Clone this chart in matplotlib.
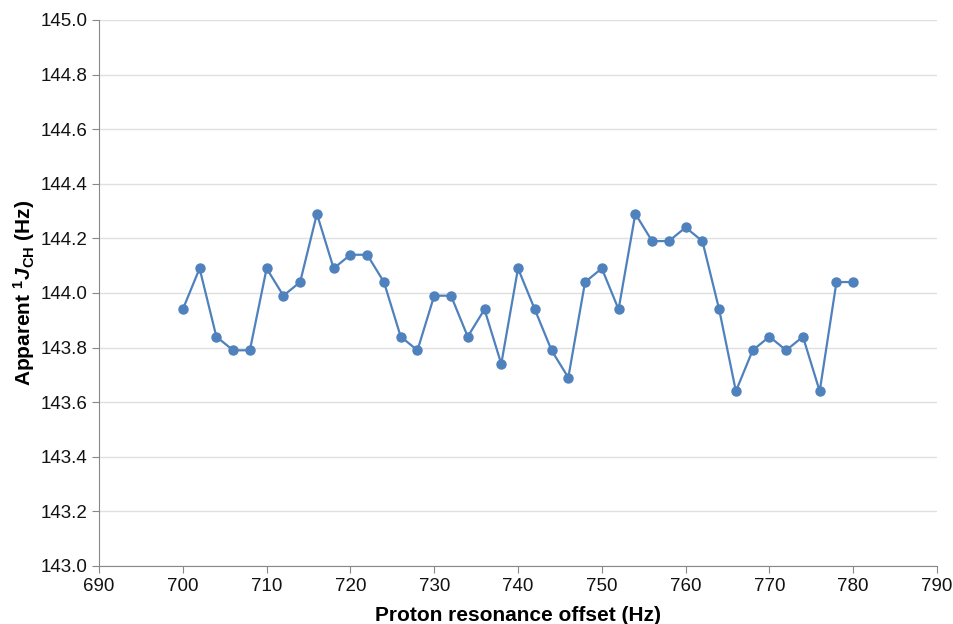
import matplotlib
matplotlib.use('Agg')
import matplotlib.pyplot as plt
import numpy as np

plt.rcParams['font.family'] = ['Liberation Sans', 'DejaVu Sans']
plt.rcParams['mathtext.fontset'] = 'custom'
plt.rcParams['mathtext.rm'] = 'Liberation Sans'
plt.rcParams['mathtext.bf'] = 'Liberation Sans:bold'
plt.rcParams['mathtext.it'] = 'Liberation Sans:italic'
plt.rcParams['mathtext.bfit'] = 'Liberation Sans:italic:bold'

# Data
offset_hz = np.arange(700, 782, 2)
apparent_j = [143.94, 144.09, 143.84, 143.79, 143.79, 144.09, 143.99, 144.04,
              144.29, 144.09, 144.14, 144.14, 144.04, 143.84, 143.79, 143.99,
              143.99, 143.84, 143.94, 143.74, 144.09, 143.94, 143.79, 143.69,
              144.04, 144.09, 143.94, 144.29, 144.19, 144.19, 144.24, 144.19,
              143.94, 143.64, 143.79, 143.84, 143.79, 143.84, 143.64, 144.04,
              144.04]

fig = plt.figure(figsize=(9.54, 6.24), dpi=100)
ax = fig.add_axes([0.1038, 0.093, 0.8784, 0.875])

ax.plot(offset_hz, apparent_j, color='#4F81BD', lw=1.6, marker='o',
        markersize=6.5, zorder=3)

ax.set_xlim(690, 790)
ax.set_ylim(143.0, 145.0)
ax.set_xticks(np.arange(690, 791, 10))
ax.set_yticks(np.arange(143.0, 145.01, 0.2))
ax.yaxis.set_major_formatter(matplotlib.ticker.FormatStrFormatter('%.1f'))
ax.grid(axis='y', color='#E0E0E0', lw=1)
ax.set_axisbelow(True)

for side in ['top', 'right']:
    ax.spines[side].set_visible(False)
for side in ['left', 'bottom']:
    ax.spines[side].set_color('#888888')
ax.tick_params(direction='out', length=5, color='#888888', labelsize=13.5,
               labelcolor='#111111')

ax.set_xlabel('Proton resonance offset (Hz)', fontsize=15, fontweight='bold',
              labelpad=8)
ax.set_ylabel(r'Apparent $^{\mathbf{1}}\mathbfit{J}_{\mathbf{CH}}$ (Hz)',
              fontsize=15, fontweight='bold', labelpad=2)

fig.savefig('out.png', dpi=100)
